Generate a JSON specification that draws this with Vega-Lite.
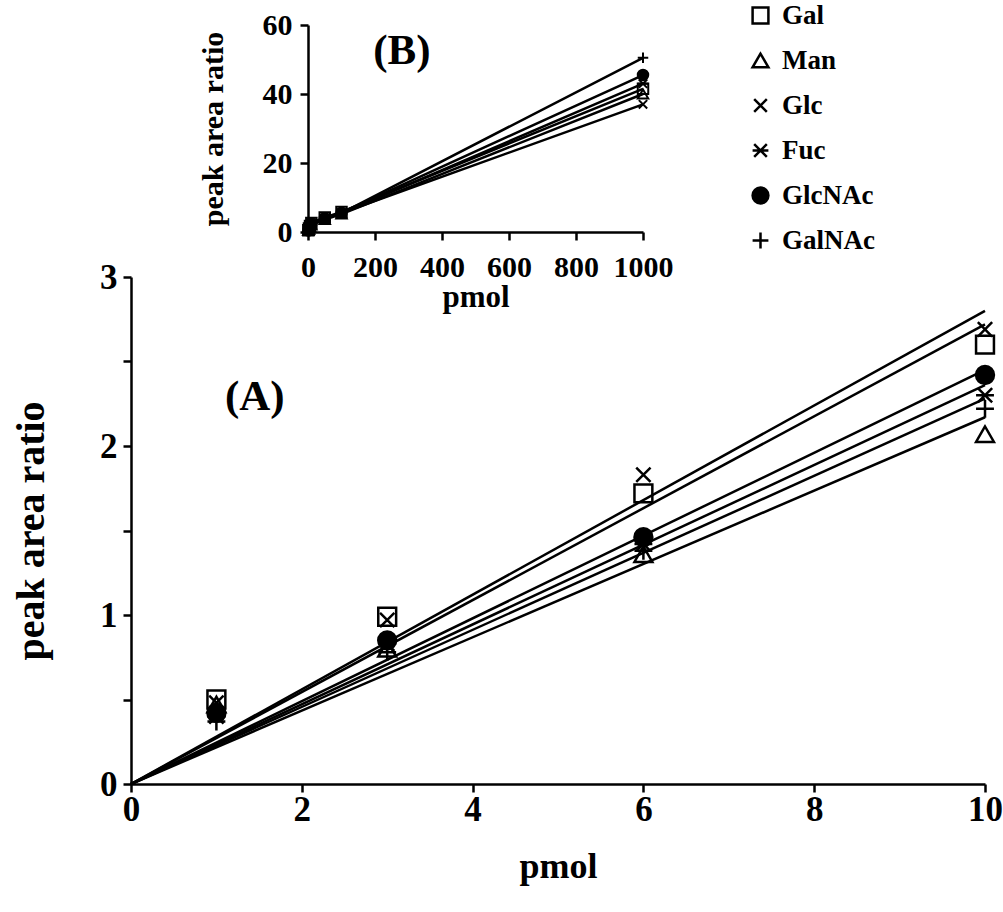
{
  "$schema": "https://vega.github.io/schema/vega-lite/v6.json",
  "background": "white",
  "padding": {"left": 11, "top": 2, "right": 0, "bottom": 5},
  "config": {
    "view": {"stroke": null},
    "font": "Liberation Serif",
    "axis": {
      "domainColor": "black", "domainWidth": 2.5, "tickColor": "black", "tickWidth": 2.5, "tickSize": 8,
      "grid": false, "labelColor": "black", "titleColor": "black",
      "labelFont": "Liberation Serif", "titleFont": "Liberation Serif",
      "labelFontWeight": "bold", "titleFontWeight": "bold"
    },
    "legend": {"symbolStrokeColor": "black", "symbolStrokeWidth": 2.5}
  },
  "datasets": {
    "points": [
      {"sugar": "Gal", "pmol": 1, "ratio": 0.50}, {"sugar": "Gal", "pmol": 3, "ratio": 0.99}, {"sugar": "Gal", "pmol": 6, "ratio": 1.72}, {"sugar": "Gal", "pmol": 10, "ratio": 2.60},
      {"sugar": "Man", "pmol": 1, "ratio": 0.47}, {"sugar": "Man", "pmol": 3, "ratio": 0.80}, {"sugar": "Man", "pmol": 6, "ratio": 1.36}, {"sugar": "Man", "pmol": 10, "ratio": 2.07},
      {"sugar": "Glc", "pmol": 1, "ratio": 0.48}, {"sugar": "Glc", "pmol": 3, "ratio": 0.97}, {"sugar": "Glc", "pmol": 6, "ratio": 1.83}, {"sugar": "Glc", "pmol": 10, "ratio": 2.69},
      {"sugar": "Fuc", "pmol": 1, "ratio": 0.40}, {"sugar": "Fuc", "pmol": 3, "ratio": 0.83}, {"sugar": "Fuc", "pmol": 6, "ratio": 1.42}, {"sugar": "Fuc", "pmol": 10, "ratio": 2.30},
      {"sugar": "GlcNAc", "pmol": 1, "ratio": 0.42}, {"sugar": "GlcNAc", "pmol": 3, "ratio": 0.85}, {"sugar": "GlcNAc", "pmol": 6, "ratio": 1.46}, {"sugar": "GlcNAc", "pmol": 10, "ratio": 2.42},
      {"sugar": "GalNAc", "pmol": 1, "ratio": 0.37}, {"sugar": "GalNAc", "pmol": 3, "ratio": 0.78}, {"sugar": "GalNAc", "pmol": 6, "ratio": 1.38}, {"sugar": "GalNAc", "pmol": 10, "ratio": 2.22}
    ],
    "fits": [
      {"sugar": "Gal", "pmol": 0, "ratio": 0}, {"sugar": "Gal", "pmol": 10, "ratio": 2.72},
      {"sugar": "Man", "pmol": 0, "ratio": 0}, {"sugar": "Man", "pmol": 10, "ratio": 2.17},
      {"sugar": "Glc", "pmol": 0, "ratio": 0}, {"sugar": "Glc", "pmol": 10, "ratio": 2.80},
      {"sugar": "Fuc", "pmol": 0, "ratio": 0}, {"sugar": "Fuc", "pmol": 10, "ratio": 2.36},
      {"sugar": "GlcNAc", "pmol": 0, "ratio": 0}, {"sugar": "GlcNAc", "pmol": 10, "ratio": 2.45},
      {"sugar": "GalNAc", "pmol": 0, "ratio": 0}, {"sugar": "GalNAc", "pmol": 10, "ratio": 2.28}
    ],
    "inset": [
      {"sugar": "Gal", "pmol": 1, "ratio": 0.50}, {"sugar": "Gal", "pmol": 3, "ratio": 0.99}, {"sugar": "Gal", "pmol": 6, "ratio": 1.72}, {"sugar": "Gal", "pmol": 10, "ratio": 2.60}, {"sugar": "Gal", "pmol": 50, "ratio": 4.2}, {"sugar": "Gal", "pmol": 100, "ratio": 5.8}, {"sugar": "Gal", "pmol": 1000, "ratio": 41.5},
      {"sugar": "Man", "pmol": 1, "ratio": 0.47}, {"sugar": "Man", "pmol": 3, "ratio": 0.80}, {"sugar": "Man", "pmol": 6, "ratio": 1.36}, {"sugar": "Man", "pmol": 10, "ratio": 2.07}, {"sugar": "Man", "pmol": 50, "ratio": 3.6}, {"sugar": "Man", "pmol": 100, "ratio": 5.2}, {"sugar": "Man", "pmol": 1000, "ratio": 40.0},
      {"sugar": "Glc", "pmol": 1, "ratio": 0.48}, {"sugar": "Glc", "pmol": 3, "ratio": 0.97}, {"sugar": "Glc", "pmol": 6, "ratio": 1.83}, {"sugar": "Glc", "pmol": 10, "ratio": 2.69}, {"sugar": "Glc", "pmol": 50, "ratio": 4.0}, {"sugar": "Glc", "pmol": 100, "ratio": 5.5}, {"sugar": "Glc", "pmol": 1000, "ratio": 37.0},
      {"sugar": "Fuc", "pmol": 1, "ratio": 0.40}, {"sugar": "Fuc", "pmol": 3, "ratio": 0.83}, {"sugar": "Fuc", "pmol": 6, "ratio": 1.42}, {"sugar": "Fuc", "pmol": 10, "ratio": 2.30}, {"sugar": "Fuc", "pmol": 50, "ratio": 3.8}, {"sugar": "Fuc", "pmol": 100, "ratio": 5.4}, {"sugar": "Fuc", "pmol": 1000, "ratio": 43.0},
      {"sugar": "GlcNAc", "pmol": 1, "ratio": 0.42}, {"sugar": "GlcNAc", "pmol": 3, "ratio": 0.85}, {"sugar": "GlcNAc", "pmol": 6, "ratio": 1.46}, {"sugar": "GlcNAc", "pmol": 10, "ratio": 2.42}, {"sugar": "GlcNAc", "pmol": 50, "ratio": 4.0}, {"sugar": "GlcNAc", "pmol": 100, "ratio": 5.6}, {"sugar": "GlcNAc", "pmol": 1000, "ratio": 45.5},
      {"sugar": "GalNAc", "pmol": 1, "ratio": 0.37}, {"sugar": "GalNAc", "pmol": 3, "ratio": 0.78}, {"sugar": "GalNAc", "pmol": 6, "ratio": 1.38}, {"sugar": "GalNAc", "pmol": 10, "ratio": 2.22}, {"sugar": "GalNAc", "pmol": 50, "ratio": 3.9}, {"sugar": "GalNAc", "pmol": 100, "ratio": 5.5}, {"sugar": "GalNAc", "pmol": 1000, "ratio": 50.5}
    ]
  },
  "bounds": "flush",
  "spacing": 45,
  "resolve": {
    "scale": {"x": "independent", "y": "independent", "shape": "independent", "fill": "independent", "stroke": "independent"},
    "legend": {"shape": "independent", "fill": "independent", "stroke": "independent"}
  },
  "vconcat": [
    {
      "width": 512, "height": 207,
      "layer": [
        {
          "data": {"name": "inset"},
          "mark": {"type": "line", "color": "black", "strokeWidth": 2.5},
          "encoding": {
            "x": {"field": "pmol", "type": "quantitative", "scale": {"domain": [0, 1000], "range": [177, 512]},
              "axis": {"values": [0, 200, 400, 600, 800, 1000], "format": "d", "title": "pmol", "labelFontSize": 30, "titleFontSize": 31, "labelPadding": 12, "titlePadding": 0, "labelFlush": false}},
            "y": {"field": "ratio", "type": "quantitative", "scale": {"domain": [0, 60]},
              "axis": {"offset": -177, "values": [0, 10, 20, 30, 40, 50, 60], "labelExpr": "datum.value % 20 === 0 ? datum.label : ''", "title": "peak area ratio", "labelFontSize": 30, "titleFontSize": 30, "labelPadding": 8, "titlePadding": 34}},
            "detail": {"field": "sugar"}
          }
        },
        {
          "data": {"name": "inset"},
          "mark": {"type": "point", "stroke": "black", "strokeWidth": 2, "size": 110, "opacity": 1},
          "encoding": {
            "x": {"field": "pmol", "type": "quantitative"},
            "y": {"field": "ratio", "type": "quantitative"},
            "shape": {"field": "sugar", "type": "nominal", "legend": null,
              "scale": {"domain": ["Gal", "Man", "Glc", "Fuc", "GlcNAc", "GalNAc"],
                "range": ["square", "triangle-up", "M-0.8,-0.8L0.8,0.8M0.8,-0.8L-0.8,0.8", "M-0.8,-0.8L0.8,0.8M0.8,-0.8L-0.8,0.8M-1,0L1,0", "circle", "M-1,0L1,0M0,-1L0,1"]}},
            "fill": {"field": "sugar", "type": "nominal", "legend": null,
              "scale": {"domain": ["Gal", "Man", "Glc", "Fuc", "GlcNAc", "GalNAc"],
                "range": ["transparent", "transparent", "transparent", "transparent", "black", "transparent"]}}
          }
        },
        {
          "data": {"values": [{"label": "(B)", "pmol": 280, "ratio": 52.5}]},
          "mark": {"type": "text", "font": "Liberation Serif", "fontWeight": "bold", "fontSize": 43, "color": "black", "baseline": "middle", "align": "center"},
          "encoding": {
            "x": {"field": "pmol", "type": "quantitative"},
            "y": {"field": "ratio", "type": "quantitative"},
            "text": {"field": "label"}
          }
        }
      ]
    },
    {
      "width": 854, "height": 507,
      "layer": [
        {
          "data": {"name": "fits"},
          "mark": {"type": "line", "color": "black", "strokeWidth": 2.5},
          "encoding": {
            "x": {"field": "pmol", "type": "quantitative", "scale": {"domain": [0, 10]},
              "axis": {"values": [0, 2, 4, 6, 8, 10], "format": "d", "title": "pmol", "labelFontSize": 35, "titleFontSize": 36, "labelPadding": 0, "titlePadding": 22, "labelFlush": false}},
            "y": {"field": "ratio", "type": "quantitative", "scale": {"domain": [0, 3]},
              "axis": {"values": [0, 0.5, 1, 1.5, 2, 2.5, 3], "labelExpr": "datum.value % 1 === 0 ? format(datum.value, 'd') : ''", "title": "peak area ratio", "labelFontSize": 35, "titleFontSize": 40, "labelPadding": 6, "titlePadding": 48}},
            "detail": {"field": "sugar"}
          }
        },
        {
          "data": {"name": "points"},
          "mark": {"type": "point", "strokeWidth": 2.5, "size": 320, "opacity": 1},
          "encoding": {
            "x": {"field": "pmol", "type": "quantitative"},
            "y": {"field": "ratio", "type": "quantitative"},
            "shape": {"field": "sugar", "type": "nominal",
              "scale": {"domain": ["Gal", "Man", "Glc", "Fuc", "GlcNAc", "GalNAc"],
                "range": ["square", "triangle-up", "M-0.8,-0.8L0.8,0.8M0.8,-0.8L-0.8,0.8", "M-0.8,-0.8L0.8,0.8M0.8,-0.8L-0.8,0.8M-1,0L1,0", "circle", "M-1,0L1,0M0,-1L0,1"]},
              "legend": {"title": null, "orient": "none", "legendX": 616, "legendY": -275, "labelFont": "Liberation Serif", "labelFontWeight": "bold", "labelFontSize": 27, "labelColor": "black", "symbolStrokeColor": "black", "symbolStrokeWidth": 2.5, "symbolSize": 250, "rowPadding": 17, "labelOffset": 8}},
            "fill": {"field": "sugar", "type": "nominal",
              "scale": {"domain": ["Gal", "Man", "Glc", "Fuc", "GlcNAc", "GalNAc"],
                "range": ["transparent", "transparent", "transparent", "transparent", "black", "transparent"]},
              "legend": {"title": null, "orient": "none", "legendX": 616, "legendY": -275, "labelFont": "Liberation Serif", "labelFontWeight": "bold", "labelFontSize": 27, "labelColor": "black", "symbolStrokeColor": "black", "symbolStrokeWidth": 2.5, "symbolSize": 250, "rowPadding": 17, "labelOffset": 8}},
            "stroke": {"field": "sugar", "type": "nominal",
              "scale": {"domain": ["Gal", "Man", "Glc", "Fuc", "GlcNAc", "GalNAc"],
                "range": ["black", "black", "black", "black", "black", "black"]},
              "legend": {"title": null, "orient": "none", "legendX": 616, "legendY": -275, "labelFont": "Liberation Serif", "labelFontWeight": "bold", "labelFontSize": 27, "labelColor": "black", "symbolStrokeColor": "black", "symbolStrokeWidth": 2.5, "symbolSize": 250, "rowPadding": 17, "labelOffset": 8}}
          }
        },
        {
          "data": {"values": [{"label": "(A)", "pmol": 1.45, "ratio": 2.29}]},
          "mark": {"type": "text", "font": "Liberation Serif", "fontWeight": "bold", "fontSize": 43, "color": "black", "baseline": "middle", "align": "center"},
          "encoding": {
            "x": {"field": "pmol", "type": "quantitative"},
            "y": {"field": "ratio", "type": "quantitative"},
            "text": {"field": "label"}
          }
        }
      ]
    }
  ]
}
